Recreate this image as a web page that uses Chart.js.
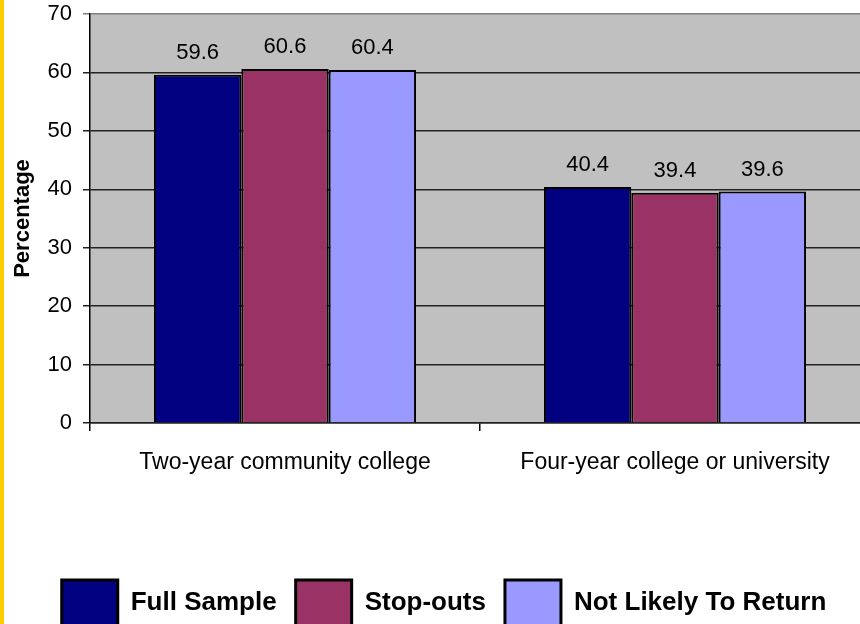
<!DOCTYPE html>
<html>
<head>
<meta charset="utf-8">
<script src="https://cdn.jsdelivr.net/npm/chart.js@4/dist/chart.umd.min.js"></script>
<style>
  html, body { margin: 0; padding: 0; background: #fff; }
  #wrap { position: relative; width: 860px; height: 624px; overflow: hidden; background: #fff; }
  #c { display: block; }
  #strip { position: absolute; left: 0; top: 0; width: 4px; height: 624px; background: #FFCC00; }
</style>
</head>
<body>
<div id="wrap">
  <canvas id="c" width="870" height="636"></canvas>
  <div id="strip"></div>
</div>
<script>
// Share of respondents by type of institution attended
const categories = ['Two-year community college', 'Four-year college or university'];
const seriesNames = ['Full Sample', 'Stop-outs', 'Not Likely To Return'];
const fullSample = [59.6, 40.4];
const stopOuts = [60.6, 39.4];
const notLikelyToReturn = [60.4, 39.6];
const yTickValues = [0, 10, 20, 30, 40, 50, 60, 70];

const seriesColors = ['#000080', '#993366', '#9999FF'];
const FONT = "'Liberation Sans', Arial, Helvetica, sans-serif";

// Grey plot background behind the bars
const plotBackground = {
  id: 'plotBackground',
  beforeDraw(chart) {
    const { ctx, chartArea: a } = chart;
    ctx.save();
    ctx.fillStyle = '#C0C0C0';
    ctx.fillRect(a.left, a.top, a.right - a.left, a.bottom - a.top);
    ctx.restore();
  }
};

// Value printed above each bar
const barValues = {
  id: 'barValues',
  afterDatasetsDraw(chart) {
    const { ctx } = chart;
    ctx.save();
    ctx.font = '22px ' + FONT;
    ctx.fillStyle = '#000';
    ctx.textAlign = 'center';
    ctx.textBaseline = 'alphabetic';
    chart.data.datasets.forEach((ds, i) => {
      chart.getDatasetMeta(i).data.forEach((el, j) => {
        ctx.fillText(ds.data[j].toFixed(1), el.x, el.y - 16);
      });
    });
    ctx.restore();
  }
};

const seriesData = [fullSample, stopOuts, notLikelyToReturn];

new Chart(document.getElementById('c'), {
  type: 'bar',
  data: {
    labels: categories,
    datasets: seriesNames.map((name, i) => ({
      label: name,
      data: seriesData[i],
      backgroundColor: seriesColors[i],
      borderColor: '#000',
      borderWidth: 2,
      categoryPercentage: 0.672,
      barPercentage: 1.0
    }))
  },
  options: {
    responsive: false,
    animation: false,
    devicePixelRatio: 1,
    layout: { padding: { left: 18, top: 0, right: 0, bottom: 0 } },
    plugins: {
      tooltip: { enabled: false },
      legend: {
        position: 'bottom',
        align: 'center',
        labels: {
          boxWidth: 56,
          boxHeight: 46,
          padding: 19,
          color: '#000',
          font: { family: FONT, size: 26, weight: 'bold' },
          generateLabels(chart) {
            return chart.data.datasets.map((ds, i) => ({
              text: ds.label,
              fillStyle: ds.backgroundColor,
              strokeStyle: '#000',
              lineWidth: 3,
              hidden: false,
              datasetIndex: i
            }));
          }
        }
      }
    },
    scales: {
      x: {
        offset: true,
        grid: {
          display: true,
          offset: true,
          drawOnChartArea: false,
          drawTicks: true,
          tickLength: 8,
          color: '#000',
          lineWidth: 1.5
        },
        border: { display: true, color: '#222', width: 1.5 },
        ticks: {
          color: '#000',
          padding: 18,
          maxRotation: 0,
          autoSkip: false,
          font: { family: FONT, size: 23 }
        },
        afterFit(scale) { scale.height = 138; }
      },
      y: {
        min: 0,
        max: 70,
        afterBuildTicks(scale) { scale.ticks = yTickValues.map(v => ({ value: v })); },
        grid: {
          color: ctx => (ctx.tick && ctx.tick.value === 70 ? '#808080' : '#222'),
          lineWidth: 1.5,
          drawTicks: true,
          tickLength: 7
        },
        border: { display: true, color: '#000', width: 1.5 },
        ticks: {
          color: '#000',
          padding: 11,
          font: { family: FONT, size: 22 }
        },
        title: {
          display: true,
          text: 'Percentage',
          color: '#000',
          padding: { top: -8, bottom: 0 },
          font: { family: FONT, size: 22, weight: 'bold' }
        },
        afterFit(scale) {
          scale.width = 72;
          scale.paddingTop = 14;
        }
      }
    }
  },
  plugins: [plotBackground, barValues]
});
</script>
</body>
</html>
